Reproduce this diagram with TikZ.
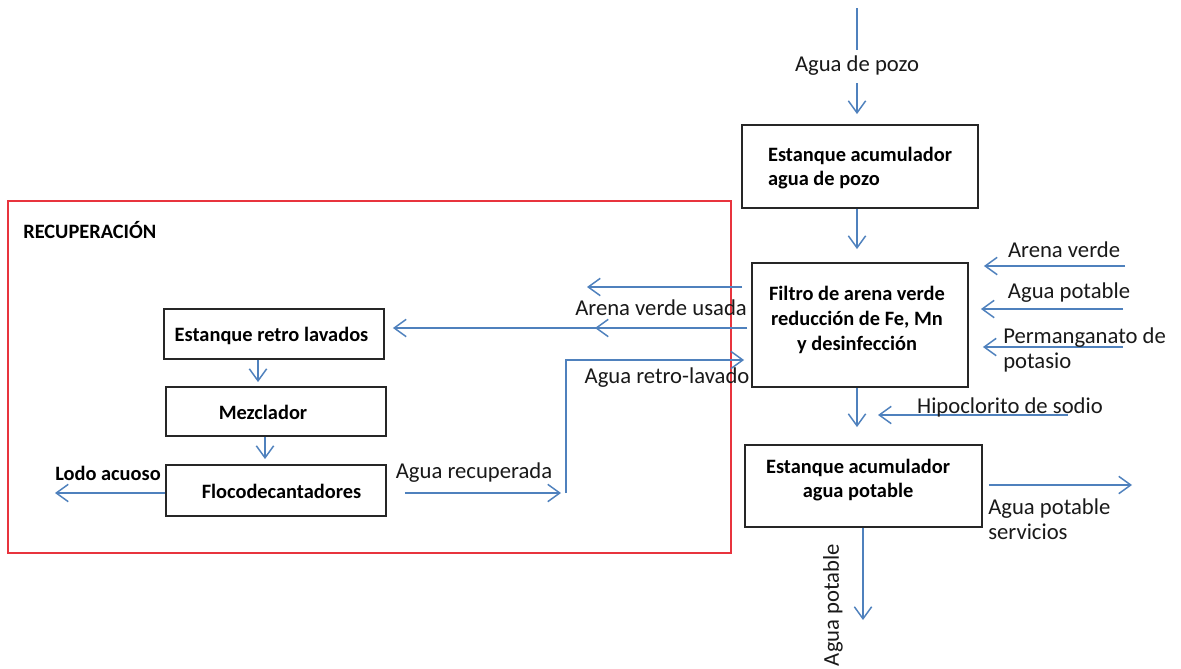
\documentclass[tikz,border=0pt]{standalone}
\usepackage{fontspec}
\setmainfont{Carlito}
\usetikzlibrary{arrows.meta}
\definecolor{flowblue}{RGB}{79,129,189}
\definecolor{framered}{RGB}{232,52,62}
\begin{document}
\begin{tikzpicture}[x=0.75pt,y=-0.75pt,
  box/.style={draw=black!85,line width=1.4pt,rectangle,inner sep=0pt},
  btxt/.style={font=\fontsize{15.3pt}{18.6pt}\selectfont\bfseries,inner sep=0pt},
  ltxt/.style={font=\fontsize{17pt}{18.6pt}\selectfont,inner sep=0pt,text=black!90},
  flow/.style={draw=flowblue,line width=1.1pt,-{Straight Barb[length=9pt,width=13pt,line width=1.1pt]}},
  plain/.style={draw=flowblue,line width=1.1pt}]
\useasboundingbox (0,0) rectangle (1181,668);
\fill[white] (0,0) rectangle (1181,668);

% red frame
\draw[framered,line width=1.3pt] (8,201) rectangle (731,553);
\node[btxt,anchor=west] (rec) at (23,230) {RECUPERACIÓN};

% main boxes
\node[box,minimum width=177pt,minimum height=62.25pt] (b1) at (860,166.5) {};
\node[btxt,align=left] (t1) at (860,168) {Estanque acumulador\\agua de pozo};

\node[box,minimum width=162pt,minimum height=93pt] (b2) at (860,325) {};
\node[btxt,align=center] (t2) at (857,320) {Filtro de arena verde\\reducción de Fe, Mn\\y desinfección};

\node[box,minimum width=177.75pt,minimum height=61.5pt] (b3) at (863.5,486) {};
\node[btxt,align=center] (t3) at (858,480) {Estanque acumulador\\agua potable};

\node[box,minimum width=165pt,minimum height=37.5pt] (retro) at (274,334) {};
\node[btxt] (tr) at (271.5,336) {Estanque retro lavados};

\node[box,minimum width=165pt,minimum height=36.75pt] (mez) at (276,411.5) {};
\node[btxt] (tm) at (263,412) {Mezclador};

\node[box,minimum width=165pt,minimum height=38.25pt] (floco) at (276,490.5) {};
\node[btxt] (tf) at (281.5,491) {Flocodecantadores};

% coordinates
\coordinate (top) at (857,8);
\coordinate (inAV) at (1125,266);
\coordinate (inAP) at (1123,309);
\coordinate (inPM) at (1123,347);
\coordinate (inHC) at (1068,415);
\coordinate (hcEnd) at (878,415);
\coordinate (servEnd) at (1132,485);
\coordinate (downEnd) at (863,620);
\coordinate (usadaEnd) at (587,287);
\coordinate (midTip) at (595,328);
\coordinate (recEnd) at (561,493);
\coordinate (corner) at (566,360);
\coordinate (riseStart) at (566,493);
\coordinate (lodoEnd) at (55,493);

% top feed
\draw[flow,shorten >=7.5pt] (top) -- (b1.north -| top)
  node[pos=0.5,ltxt,fill=white,inner ysep=5pt,inner xsep=2pt] (lpozo) {Agua de pozo};
\draw[flow,shorten >=9.75pt] (b1.south -| top) -- (b2.north -| top);

% right inputs
\draw[flow,shorten >=11.25pt] (inAV) -- (b2.east |- inAV);
\node[ltxt] (lAV) at (1064,250) {Arena verde};
\draw[flow,shorten >=9pt] (inAP) -- (b2.east |- inAP);
\node[ltxt] (lAP) at (1069,293) {Agua potable};
\draw[flow,shorten >=10.5pt] (inPM) -- (b2.east |- inPM);
\node[ltxt,align=left,anchor=west] (lPM) at (1003,350) {Permanganato de\\potasio};

% to potable tank
\draw[flow,shorten >=12.75pt] (b2.south -| top) -- (b3.north -| top);
\draw[flow] (inHC) -- (hcEnd);
\node[ltxt] (lHC) at (1010,407) {Hipoclorito de sodio};

% outputs of potable tank
\draw[flow,shorten <=4.5pt] (b3.east |- servEnd) -- (servEnd);
\node[ltxt,align=left,anchor=west] (lserv) at (988,519.5) {Agua potable\\servicios};
\draw[flow] (b3.south -| downEnd) -- (downEnd);
\node[ltxt,rotate=90] (ldown) at (833,605) {Agua potable};

% arena verde usada
\draw[flow,shorten <=6.75pt] (b2.west |- usadaEnd) -- (usadaEnd);
\node[ltxt] (lusada) at (661,308) {Arena verde usada};
\draw[flow,shorten <=3pt] (b2.west |- midTip) -- (midTip);
\draw[flow,shorten <=3pt,shorten >=6pt] (b2.west |- midTip) -- (retro.east |- midTip);

% agua retro-lavado
\draw[flow,shorten >=5.25pt] (riseStart) -- (corner) -- (b2.west |- corner);
\node[ltxt] (lretro) at (667,378) {Agua retro-lavado};

% recovery chain
\draw[flow,shorten >=3pt] (retro.south -| 258,0) -- (mez.north -| 258,0);
\draw[flow,shorten >=3.75pt] (mez.south -| 265,0) -- (floco.north -| 265,0);
\draw[flow,shorten <=13.5pt] (floco.east |- recEnd) -- (recEnd);
\node[ltxt] (lrec) at (474,473) {Agua recuperada};
\draw[flow] (floco.west |- lodoEnd) -- (lodoEnd);
\node[btxt] (llodo) at (108,473) {Lodo acuoso};
\end{tikzpicture}
\end{document}
